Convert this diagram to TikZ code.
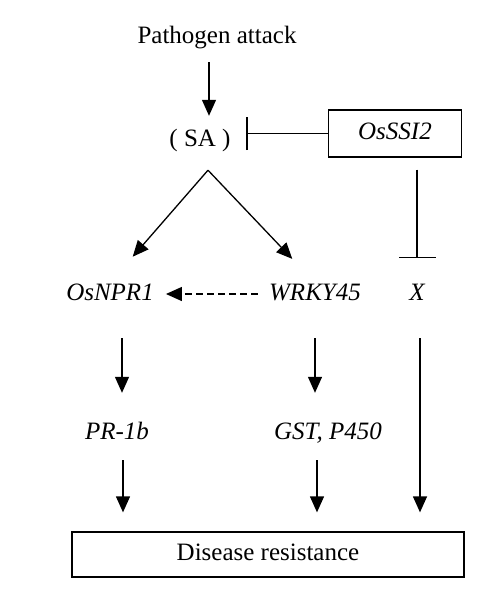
\documentclass[tikz,border=0pt]{standalone}
\usepackage{fontspec}
\setmainfont{Liberation Serif}
\usetikzlibrary{arrows.meta,positioning}

\begin{document}
\begin{tikzpicture}[x=1pt, y=-1pt,
    txt/.style={inner sep=0pt, text height=17pt, text depth=5pt, font=\fontsize{25}{30}\selectfont},
    gene/.style={txt, font=\fontsize{25}{30}\selectfont\itshape},
    arr/.style={line width=1.3pt, -{Triangle[length=16pt,width=14pt]}},
    inh/.style={line width=1.3pt, -{Bar[width=#1]}},
    boxed/.style={draw, line width=1.3pt}]
    \useasboundingbox (0,0) rectangle (486,592);

    % Signal and SA
    \node[txt] (patho) at (217,37) {Pathogen attack};
    \node[txt] (sa) at (200,140) {( SA )};
    \node[boxed, gene, minimum width=133pt, minimum height=47pt] (ssi) at (395,133.5) {OsSSI2};
    \path (sa.south) ++(8,19) coordinate (apex);

    % Genes
    \node[gene] (npr) at (110,294) {OsNPR1};
    \node[gene] (wrky) at (315,294) {WRKY45};
    \node[gene] (x) at (417,294) {X};
    \node[gene] (pr) at (117,433) {PR-1b};
    \node[gene] (gst) at (328,433) {GST, P450};

    % Output
    \node[boxed, txt, minimum width=392pt, minimum height=45pt] (dis) at (268,554.5) {Disease resistance};

    % Activation and inhibition
    \draw[arr, shorten <=14pt, shorten >=13pt] ([xshift=-8pt]patho.south) -- ([xshift=9pt]sa.north);
    \draw[inh=33pt, shorten >=15.5pt] (ssi.west) -- (ssi.west -| sa.east);
    \draw[inh=37pt, shorten <=12pt, shorten >=25pt] ([xshift=22pt]ssi.south) -- (x.north);
    \draw[arr, shorten >=34.6pt] (apex) -- (npr.north);
    \draw[arr, shorten >=33pt] (apex) -- (wrky.north);
    \draw[arr, dash pattern=on 7pt off 4pt, shorten <=11pt, shorten >=12pt] (wrky.west) -- (npr.east);

    % Down to resistance
    \draw[arr, shorten <=33pt, shorten >=29pt] ([xshift=12pt]npr.south) -- ([xshift=12pt]npr.south |- pr.north);
    \draw[arr, shorten <=33pt, shorten >=29pt] (wrky.south) -- (wrky.south |- gst.north);
    \draw[arr, shorten <=16pt, shorten >=19pt] ([xshift=6pt]pr.south) -- ([xshift=6pt]pr.south |- dis.north);
    \draw[arr, shorten <=16pt, shorten >=19pt] ([xshift=-11pt]gst.south) -- ([xshift=-11pt]gst.south |- dis.north);
    \draw[arr, shorten <=33pt, shorten >=19pt] ([xshift=3pt]x.south) -- ([xshift=3pt]x.south |- dis.north);
\end{tikzpicture}
\end{document}
